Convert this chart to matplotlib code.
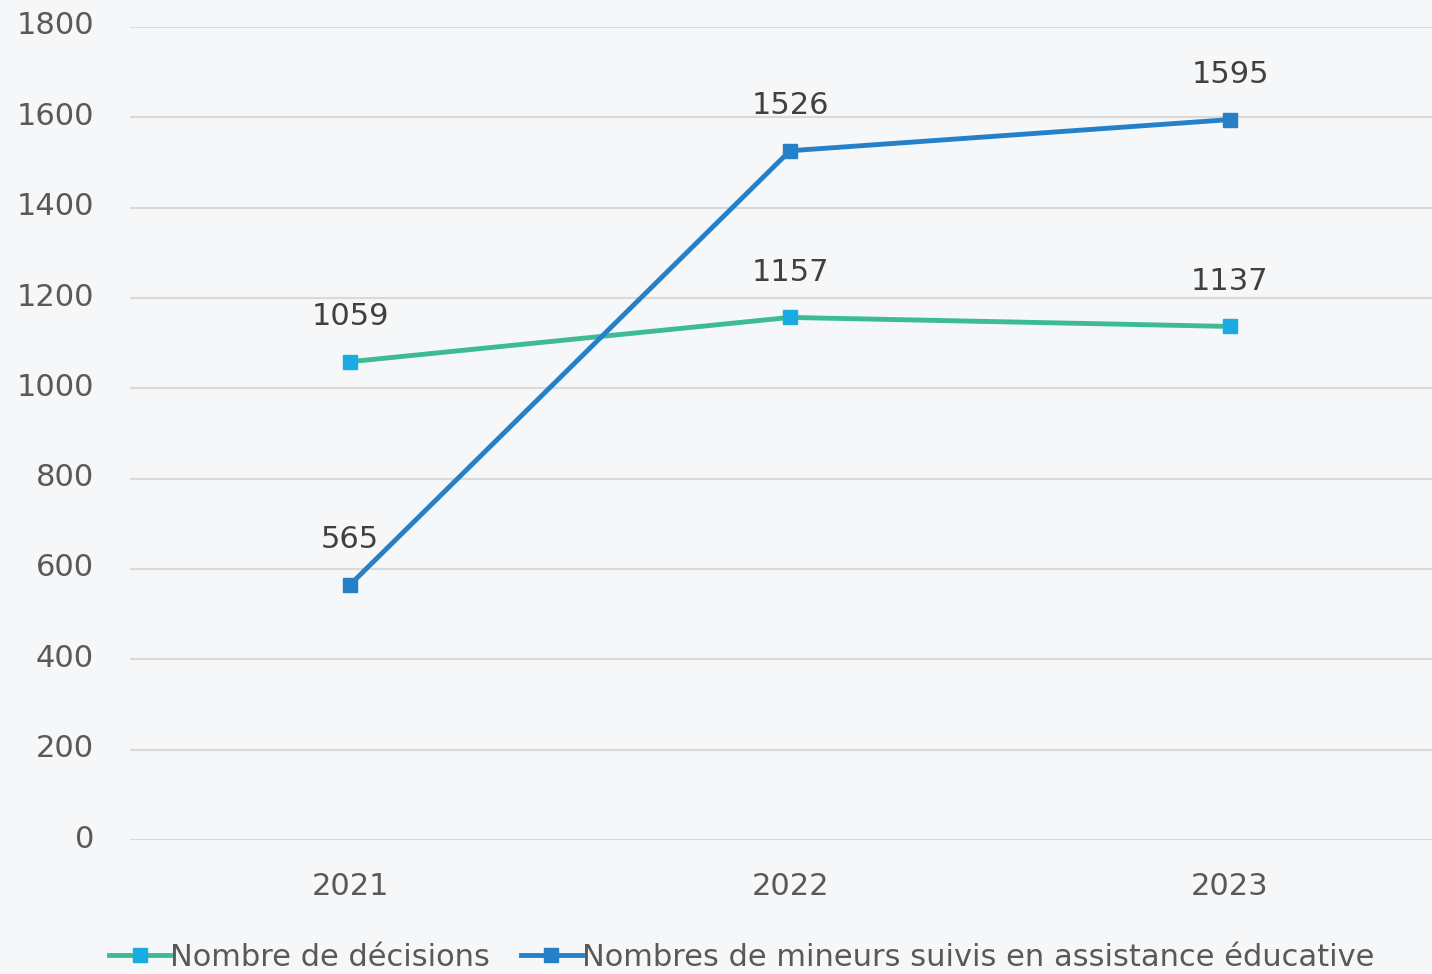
import matplotlib
matplotlib.use("Agg")
import matplotlib.pyplot as plt
import matplotlib.transforms as mtransforms

# Data
years = ['2021', '2022', '2023']
decisions = [1059, 1157, 1137]
mineurs = [565, 1526, 1595]
yticks = [0, 200, 400, 600, 800, 1000, 1200, 1400, 1600, 1800]

bg = '#F5F7F9'
plt.rcParams['font.family'] = ['DejaVu Sans']

fig = plt.figure(figsize=(14.32, 9.74), dpi=100, facecolor=bg)
ax = fig.add_axes([130 / 1432, 134 / 974, 1302 / 1432, 813 / 974], facecolor=bg)

x = range(len(years))
ax.plot(x, decisions, color='#3DBB94', lw=3.5, marker='s', ms=10,
        mfc='#1AABE3', mec='#1AABE3', label='Nombre de décisions', zorder=3)
ax.plot(x, mineurs, color='#2580C8', lw=3.5, marker='s', ms=10,
        mfc='#2580C8', mec='#2580C8',
        label='Nombres de mineurs suivis en assistance éducative', zorder=3)

# Data labels
for i, v in enumerate(decisions):
    ax.annotate(str(v), (i, v), xytext=(0, 22), textcoords='offset points',
                ha='center', va='bottom', fontsize=22, color='#404040')
for i, v in enumerate(mineurs):
    ax.annotate(str(v), (i, v), xytext=(0, 22), textcoords='offset points',
                ha='center', va='bottom', fontsize=22, color='#404040')

ax.set_xlim(-0.5, 1302 / 440 - 0.5)
ax.set_ylim(0, 1800)
ax.set_xticks(list(x))
ax.set_xticklabels(years)
ax.set_yticks(yticks)
ax.tick_params(axis='both', length=0, labelsize=22, labelcolor='#595959')
ax.tick_params(axis='y', pad=26)
ax.tick_params(axis='x', pad=23)
shift = mtransforms.ScaledTranslation(0, 4 / 100, fig.dpi_scale_trans)
for lab in ax.get_yticklabels():
    lab.set_horizontalalignment('right')
    lab.set_transform(lab.get_transform() + shift)
ax.grid(axis='y', color='#D9D9D9', lw=1.5)
ax.set_axisbelow(True)
for s in ax.spines.values():
    s.set_visible(False)

leg = fig.legend(loc='lower center', bbox_to_anchor=(0.518, -0.026), ncol=2,
                 frameon=False, fontsize=22, handlelength=2.0,
                 handletextpad=0.0, columnspacing=1.0)
for t in leg.get_texts():
    t.set_color('#595959')

fig.savefig('out.png', dpi=100, facecolor=bg)
